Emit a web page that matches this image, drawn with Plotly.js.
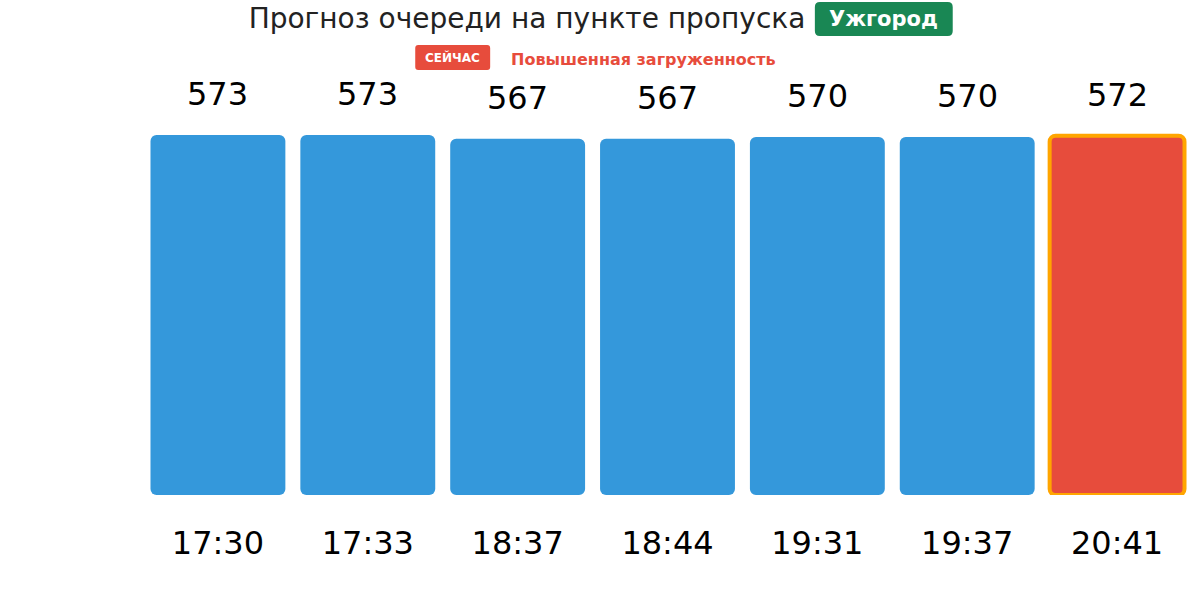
<!DOCTYPE html>
<html>
<head>
<meta charset="utf-8">
<script src="https://cdn.plot.ly/plotly-3.0.1.min.js"></script>
<style>html,body{margin:0;padding:0;background:#fff;}#chart{width:1200px;height:616px;}</style>
</head>
<body>
<div id="chart"></div>
<script>
const times = ['17:30', '17:33', '18:37', '18:44', '19:31', '19:37', '20:41'];
const queue = [573, 573, 567, 567, 570, 570, 572];
const currentIndex = 6;
const chartTitle = 'Прогноз очереди на пункте пропуска';
const checkpoint = 'Ужгород';
const nowLabel = 'СЕЙЧАС';
const statusLabel = 'Повышенная загруженность';

const BLUE = '#3498db', RED = '#e74c3c', ORANGE = '#FFA500', GREEN = '#198754';
const FONT = 'DejaVu Sans, sans-serif';

const xs = queue.map((_, i) => i);
const colors = queue.map((_, i) => i === currentIndex ? RED : BLUE);
const lineW = queue.map((_, i) => i === currentIndex ? 4 : 0);
const lineC = queue.map((_, i) => i === currentIndex ? ORANGE : 'rgba(0,0,0,0)');

const bars = {
  type: 'bar', x: xs, y: queue, base: queue.map(() => 0), width: 0.9,
  marker: {color: colors, cornerradius: 6, line: {color: lineC, width: lineW}},
  hoverinfo: 'skip', showlegend: false
};

const plotL = 142.5, plotR = 7.5, plotT = 99, plotB = 121;
const W = 1200, H = 616;
const pw = W - plotL - plotR, ph = H - plotT - plotB;
const px = x => (x - plotL) / pw;
const py = y => (H - plotB - y) / ph;

function roundRect(x0, y0, x1, y1, r) {
  const P = (x, y) => px(x) + ',' + py(y);
  return 'M' + P(x0 + r, y0) + ' L' + P(x1 - r, y0) + ' Q' + P(x1, y0) + ' ' + P(x1, y0 + r) +
    ' L' + P(x1, y1 - r) + ' Q' + P(x1, y1) + ' ' + P(x1 - r, y1) +
    ' L' + P(x0 + r, y1) + ' Q' + P(x0, y1) + ' ' + P(x0, y1 - r) +
    ' L' + P(x0, y0 + r) + ' Q' + P(x0, y0) + ' ' + P(x0 + r, y0) + ' Z';
}

const shapes = [
  {type: 'path', xref: 'paper', yref: 'paper', path: roundRect(815, 2, 953, 36, 5),
   fillcolor: GREEN, line: {width: 0}, layer: 'above'},
  {type: 'path', xref: 'paper', yref: 'paper', path: roundRect(415, 45, 490, 70, 3),
   fillcolor: RED, line: {width: 0}, layer: 'above'}
];

const annotations = queue.map((v, i) => ({
  x: i, y: v, xref: 'x', yref: 'y', text: String(v), showarrow: false,
  yanchor: 'middle', yshift: 41, font: {family: FONT, size: 32, color: '#000'}
}));
annotations.push({
  xref: 'paper', yref: 'paper', x: px(884), y: py(19), text: '<b>' + checkpoint + '</b>',
  showarrow: false, xanchor: 'center', yanchor: 'middle',
  font: {family: FONT, size: 21, color: '#fff'}
});
annotations.push({
  xref: 'paper', yref: 'paper', x: px(452.5), y: py(57.5), text: '<b>' + nowLabel + '</b>',
  showarrow: false, xanchor: 'center', yanchor: 'middle',
  font: {family: FONT, size: 12, color: '#fff'}
});
annotations.push({
  xref: 'paper', yref: 'paper', x: px(509), y: py(59), text: '<b>' + statusLabel + '</b>',
  showarrow: false, xanchor: 'left', yanchor: 'middle',
  font: {family: FONT, size: 16, color: RED}
});

const layout = {
  width: W, height: H,
  margin: {l: plotL, r: plotR, t: plotT, b: plotB, pad: 0},
  paper_bgcolor: '#fff', plot_bgcolor: '#fff',
  title: {text: chartTitle, x: 527 / W, xanchor: 'center', xref: 'container',
          y: 1 - 18 / H, yanchor: 'middle', yref: 'container',
          font: {family: FONT, size: 28, color: '#222'}},
  xaxis: {range: [-0.5, 6.5], tickvals: xs, ticktext: times, showgrid: false, zeroline: false,
          showline: false, ticks: '', ticklabelstandoff: 26,
          tickfont: {family: FONT, size: 32, color: '#000'}, fixedrange: true},
  yaxis: {range: [0, Math.max(...queue) * 1.1], visible: false, fixedrange: true},
  shapes: shapes,
  annotations: annotations,
  font: {family: FONT}
};

Plotly.newPlot('chart', [bars], layout, {displayModeBar: false, staticPlot: true});
</script>
</body>
</html>
